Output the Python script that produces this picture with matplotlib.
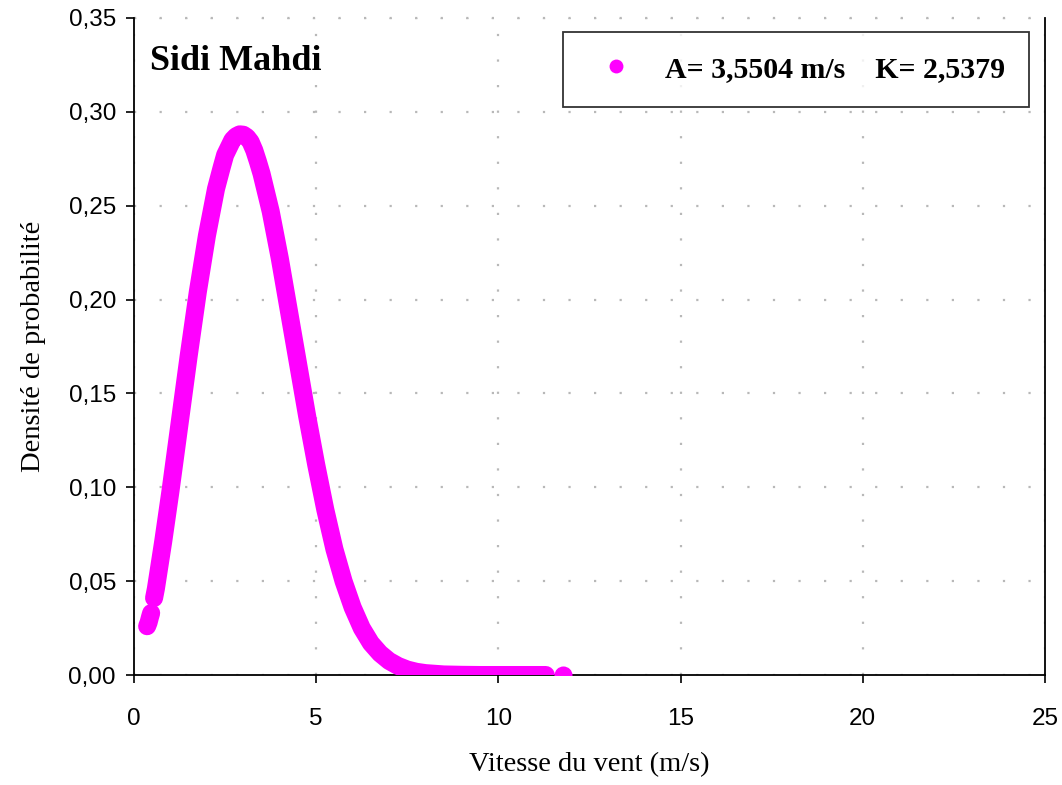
import matplotlib
matplotlib.use("Agg")
import matplotlib.pyplot as plt
from matplotlib.ticker import FuncFormatter
from matplotlib.lines import Line2D

# Data (wind speed m/s, probability density)
speed_low = [0.36, 0.40, 0.44, 0.47]
density_low = [0.026, 0.028, 0.031, 0.033]

speed_main = [0.55, 0.6, 0.8, 1.0, 1.25, 1.5, 1.75, 2.0, 2.25, 2.4, 2.5, 2.6,
              2.7, 2.8, 2.9, 3.0, 3.1, 3.2, 3.3, 3.4, 3.5, 3.75, 4.0, 4.25,
              4.5, 4.75, 5.0, 5.25, 5.5, 5.75, 6.0, 6.25, 6.5, 6.75, 7.0, 7.25,
              7.5, 7.75, 8.0, 8.5, 9.0, 9.5, 10.0, 10.5, 11.0, 11.3]
density_main = [0.041, 0.046, 0.071, 0.098, 0.134, 0.170, 0.204, 0.234, 0.259,
                0.270, 0.277, 0.281, 0.285, 0.287, 0.288, 0.2878, 0.2865, 0.284,
                0.2795, 0.2735, 0.267, 0.247, 0.222, 0.194, 0.166, 0.138, 0.112,
                0.088, 0.067, 0.050, 0.036, 0.025, 0.017, 0.0115, 0.0075,
                0.0048, 0.0029, 0.0017, 0.0010, 0.0003, 0.0001, 0.0, 0.0, 0.0,
                0.0, 0.0]

speed_iso = [11.77]
density_iso = [0.0]

legend_label = "A= 3,5504 m/s    K= 2,5379"
site_name = "Sidi Mahdi"
x_ticks = [0, 5, 10, 15, 20, 25]
y_ticks = [0.0, 0.05, 0.10, 0.15, 0.20, 0.25, 0.30, 0.35]

MAG = "#ff00ff"

fig = plt.figure(figsize=(10.62, 7.85), dpi=100)
ax = fig.add_axes([0.1262, 0.1401, 0.984 - 0.1262, 0.9771 - 0.1401])

lw = 13
common = dict(color=MAG, lw=lw, solid_capstyle="round", solid_joinstyle="round",
              zorder=3)
ax.plot(speed_low, density_low, **common)
ax.plot(speed_main, density_main, **common)
ax.plot(speed_iso, density_iso, color=MAG, lw=0, marker="o", ms=lw,
        markeredgewidth=0, zorder=3)

ax.set_xlim(0, 25)
ax.set_ylim(0, 0.35)
ax.set_xticks(x_ticks)
ax.set_yticks(y_ticks)
ax.yaxis.set_major_formatter(FuncFormatter(lambda v, p: f"{v:.2f}".replace(".", ",")))
ax.xaxis.set_major_formatter(FuncFormatter(lambda v, p: f"{int(v)}"))

for lab in ax.get_xticklabels() + ax.get_yticklabels():
    lab.set_fontfamily("Liberation Sans")
    lab.set_fontsize(17.5)
ax.tick_params(direction="out", length=6, width=1.2, color="black", pad=7)
ax.tick_params(axis="x", pad=18)

for s in ["left", "bottom", "right"]:
    ax.spines[s].set_color("black")
    ax.spines[s].set_linewidth(1.3)
ax.spines["top"].set_visible(False)

ax.grid(True, color="#b8b8b8", linestyle=(0, (1, 10.5)), linewidth=1.6)
ax.axhline(0.35, color="#b8b8b8", linestyle=(0, (1, 10.5)), linewidth=1.6, clip_on=False)
ax.set_axisbelow(True)

ax.set_xlabel("Vitesse du vent (m/s)", family="Liberation Serif", fontsize=20.5, labelpad=16)
ax.set_ylabel("Densité de probabilité", family="Liberation Serif", fontsize=20.5, labelpad=16)

ax.text(0.0176, 0.934, site_name, transform=ax.transAxes, family="Liberation Serif",
        fontsize=26, fontweight="bold", va="center", ha="left")

handle = Line2D([], [], color=MAG, lw=0, marker="o", ms=10, markeredgewidth=0)
leg = ax.legend([handle], [legend_label], loc="upper left",
                bbox_to_anchor=(0.4709, 0.9787), frameon=True, fancybox=False,
                prop=dict(family="Liberation Serif", size=21.5, weight="bold"),
                borderpad=0.8, handletextpad=0.67, handlelength=1.95,
                borderaxespad=0)
leg.get_frame().set_edgecolor("black")
leg.get_frame().set_linewidth(1.3)

fig.savefig("out.png", dpi=100)
